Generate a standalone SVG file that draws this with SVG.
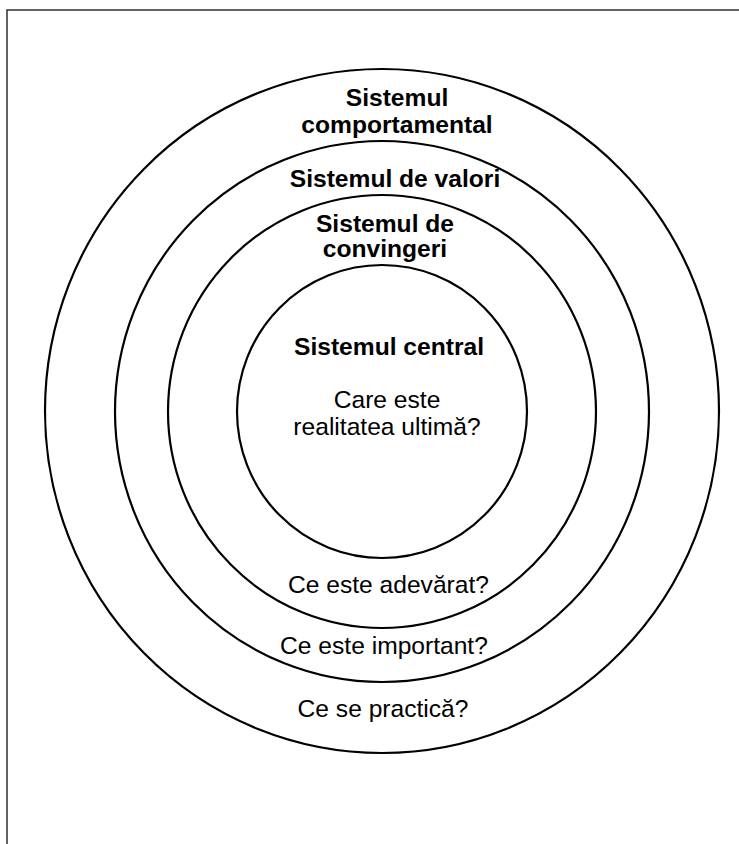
<svg xmlns="http://www.w3.org/2000/svg" width="739" height="844" viewBox="0 0 739 844">
<style>
.ring{fill:none;stroke:#000;stroke-width:2.2}
.b{font-family:"Liberation Sans",Arial,sans-serif;font-weight:bold;font-size:24.6px;text-anchor:middle;fill:#000}
.r{font-family:"Liberation Sans",Arial,sans-serif;font-size:24.6px;text-anchor:middle;fill:#000}
</style>
<rect x="0" y="0" width="739" height="844" fill="#fff"/>
<rect x="7" y="10" width="800" height="900" fill="none" stroke="#222" stroke-width="1.4"/>
<g id="outer">
<ellipse class="ring" cx="382" cy="411" rx="337" ry="342"/>
<text class="b" x="397" y="106">Sistemul</text>
<text class="b" x="397" y="133">comportamental</text>
<text class="r" x="383" y="717">Ce se practică?</text>
</g>
<g id="values">
<ellipse class="ring" cx="382" cy="411.5" rx="267" ry="270.5"/>
<text class="b" x="395" y="187">Sistemul de valori</text>
<text class="r" x="384" y="654">Ce este important?</text>
</g>
<g id="beliefs">
<ellipse class="ring" cx="382" cy="411.5" rx="214" ry="216.5"/>
<text class="b" x="385" y="232">Sistemul de</text>
<text class="b" x="385" y="257">convingeri</text>
<text class="r" x="388.5" y="593">Ce este adevărat?</text>
</g>
<g id="central">
<ellipse class="ring" cx="382" cy="411.5" rx="145" ry="146.5"/>
<text class="b" x="389" y="355">Sistemul central</text>
<text class="r" x="387" y="408">Care este</text>
<text class="r" x="387" y="435">realitatea ultimă?</text>
</g>
<g id="connectors"/>
</svg>
